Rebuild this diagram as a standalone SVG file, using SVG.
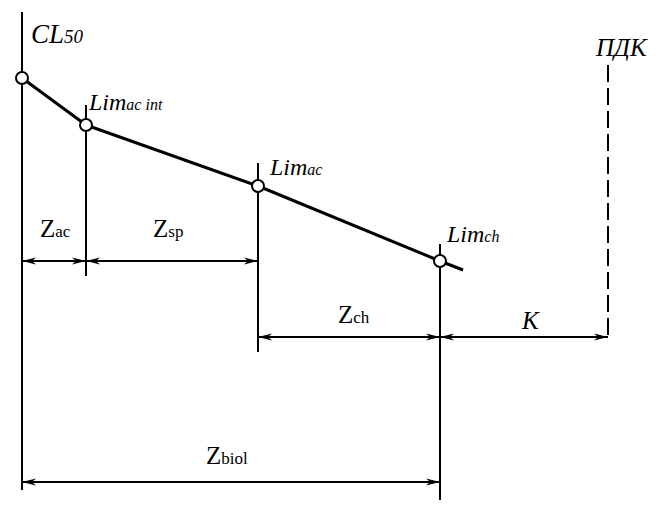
<svg xmlns="http://www.w3.org/2000/svg" width="666" height="505" viewBox="0 0 666 505">
<style>
.ln{stroke:#000;stroke-width:2;fill:none}
.curve{stroke:#000;stroke-width:3;fill:none;stroke-linejoin:round}
.pt{fill:#fff;stroke:#000;stroke-width:2}
.dim{stroke:#000;stroke-width:2;fill:none;marker-start:url(#arr);marker-end:url(#arr)}
</style>
<defs>
<marker id="arr" viewBox="0 0 14 8" refX="14" refY="4" markerWidth="14" markerHeight="8" markerUnits="userSpaceOnUse" orient="auto-start-reverse">
<path d="M0,0.5 L14,4 L0,7.5 L4,4 Z" fill="#000"/>
</marker>
</defs>
<rect width="666" height="505" fill="#fff"/>
<g id="connectors">
<line class="ln" x1="22" y1="12" x2="22" y2="490"/>
<line class="ln" x1="86" y1="105" x2="86" y2="276"/>
<line class="ln" x1="258" y1="163" x2="258" y2="352"/>
<line class="ln" x1="440" y1="244" x2="440" y2="500"/>
<line class="ln" x1="608" y1="65" x2="608" y2="336" stroke-dasharray="17,6"/>
<polyline class="curve" points="22,78 86,125 258,186 440,261 463,270"/>
<line class="dim" x1="22" y1="261" x2="86" y2="261"/>
<line class="dim" x1="86" y1="261" x2="258" y2="261"/>
<line class="dim" x1="258" y1="337" x2="440" y2="337"/>
<line class="dim" x1="440" y1="337" x2="608" y2="337"/>
<line class="dim" x1="22" y1="482" x2="440" y2="482"/>
</g>
<g font-family="Liberation Serif, Times New Roman, serif" fill="#000">
<g id="cl50">
<circle class="pt" cx="22" cy="78" r="6"/>
<text font-style="italic" x="31" y="43" font-size="27">CL<tspan font-size="19">50</tspan></text>
</g>
<g id="lim-ac-int">
<circle class="pt" cx="86" cy="125" r="6"/>
<text font-style="italic" x="89" y="110" font-size="24">Lim<tspan font-size="16">ac int</tspan></text>
</g>
<g id="lim-ac">
<circle class="pt" cx="258" cy="186" r="6"/>
<text font-style="italic" x="270" y="175" font-size="24">Lim<tspan font-size="16">ac</tspan></text>
</g>
<g id="lim-ch">
<circle class="pt" cx="440" cy="261" r="6"/>
<text font-style="italic" x="447" y="242" font-size="24">Lim<tspan font-size="16">ch</tspan></text>
</g>
<g id="pdk">
<text font-style="italic" x="596" y="56" font-size="25">ПДК</text>
</g>
<g id="labels">
<text x="40" y="237" font-size="25">Z<tspan font-size="17">ac</tspan></text>
<text x="153" y="237" font-size="25">Z<tspan font-size="17">sp</tspan></text>
<text x="338" y="323" font-size="25">Z<tspan font-size="17">ch</tspan></text>
<text font-style="italic" x="522" y="329" font-size="25">К</text>
<text x="206" y="464" font-size="25">Z<tspan font-size="17">biol</tspan></text>
</g>
</g>
</svg>
